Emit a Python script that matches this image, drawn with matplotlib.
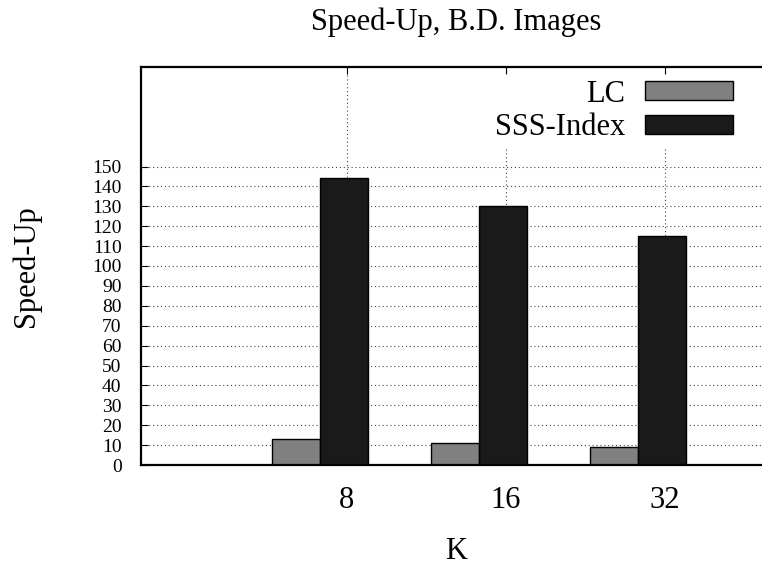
"""
Speed-Up, B.D. Images - 柱状图重绘
"""
import matplotlib
matplotlib.use("Agg")
import matplotlib.pyplot as plt
import numpy as np

# 数据
k_labels = ['8', '16', '32']
lc_speedup = [13, 11, 9]
sss_speedup = [144, 130, 115]
y_ticks = list(range(0, 151, 10))

plt.rcParams['font.family'] = ['Liberation Serif', 'DejaVu Serif']
big = 22

W, H = 762, 567
fig = plt.figure(figsize=(W / 100, H / 100), dpi=100)

# 坐标区域 (像素 -> 比例), 右边超出图片
left, right, top, bottom = 141, 771, 67, 465
ax = fig.add_axes([left / W, 1 - bottom / H, (right - left) / W, (bottom - top) / H])

x = np.arange(1, len(k_labels) + 1)
bar_w = 0.30
ax.bar(x - 0.32, lc_speedup, bar_w, color='#808080', edgecolor='black',
       linewidth=1.0, label='LC', zorder=3)
ax.bar(x - 0.02, sss_speedup, bar_w, color='#1a1a1a', edgecolor='black',
       linewidth=1.0, label='SSS-Index', zorder=3)

ax.set_xlim(1 - (347 - left) / 159, 1 + (right - 347) / 159)
ax.set_ylim(0, 200)
ax.set_xticks(x)
ax.set_xticklabels(k_labels, fontsize=big)
ax.set_yticks(y_ticks)
ax.set_yticklabels([str(v) for v in y_ticks], fontsize=14)

ax.tick_params(axis='both', direction='in', length=5, width=0.8, top=True, right=True)
ax.tick_params(axis='y', pad=14)
ax.tick_params(axis='x', pad=15)

# 网格
ax.grid(True, linestyle=(0, (1, 2.5)), color='#444444', linewidth=0.8, zorder=0)
ax.set_axisbelow(True)

for s in ['left', 'top', 'bottom']:
    ax.spines[s].set_linewidth(1.6)
    ax.spines[s].set_zorder(10)
ax.spines['right'].set_visible(False)

# 图例
leg = ax.legend(loc='upper right', bbox_to_anchor=(738 / W, 1 - 75 / H),
                bbox_transform=fig.transFigure, fontsize=big, markerfirst=False,
                handlelength=2.9, handleheight=0.56, handletextpad=0.65,
                labelspacing=0.15, borderpad=0.15, borderaxespad=0,
                fancybox=False, framealpha=1, facecolor='white', edgecolor='white')
leg.set_zorder(5)
for h in leg.legend_handles:
    h.set_linewidth(1.0)

# 标题与轴标签
cx = (left + right) / 2
fig.text(cx / W, 1 - 30 / H, 'Speed-Up, B.D. Images', ha='center', va='baseline', fontsize=big)
fig.text(cx / W, 1 - 566 / H, 'K', ha='center', va='bottom', fontsize=big)
fig.text(26 / W, 1 - 266 / H, 'Speed-Up', ha='center', va='center', rotation=90, fontsize=big)

fig.savefig('out.png', dpi=100)
